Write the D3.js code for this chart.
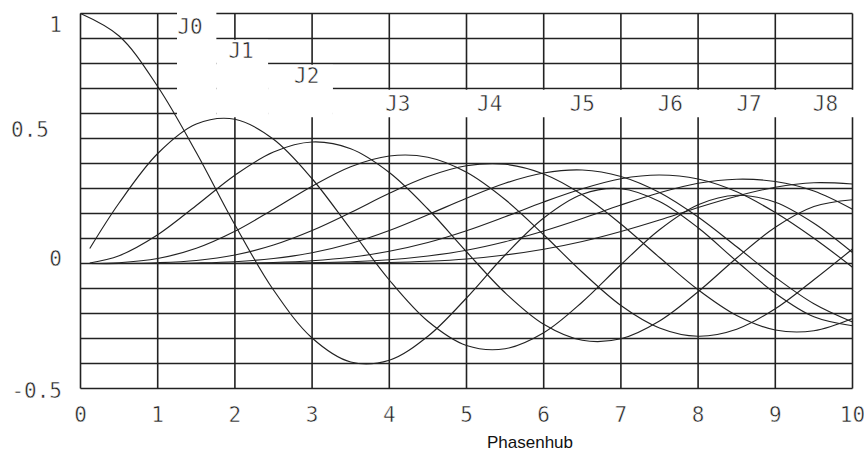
<!DOCTYPE html>
<html>
<head>
<meta charset="utf-8">
<script src="https://cdn.jsdelivr.net/npm/d3@7"></script>
<style>
  body { margin: 0; background: #fff; }
  svg { display: block; }
</style>
</head>
<body>
<div id="chart"></div>
<script>
// Phasenhub (x) sample points
const phase   = [0, 0.5, 1, 1.5, 2, 2.5, 3, 3.5, 4, 4.5, 5, 5.5, 6, 6.5, 7, 7.5, 8, 8.5, 9, 9.5, 10];
const phaseJn = [0.12, 0.5, 1, 1.5, 2, 2.5, 3, 3.5, 4, 4.5, 5, 5.5, 6, 6.5, 7, 7.5, 8, 8.5, 9, 9.5, 10];

const j0 = [1.0, 0.91, 0.708, 0.444, 0.155, -0.106, -0.298, -0.394, -0.387, -0.291, -0.138, 0.034, 0.182, 0.277, 0.299, 0.248, 0.143, 0.009, -0.119, -0.213, -0.249];
const j1 = [0.06, 0.242, 0.440, 0.558, 0.577, 0.497, 0.339, 0.137, -0.066, -0.231, -0.328, -0.341, -0.277, -0.154, -0.005, 0.135, 0.235, 0.273, 0.245, 0.161, 0.044];
const j2 = [0.002, 0.031, 0.115, 0.232, 0.353, 0.446, 0.486, 0.459, 0.364, 0.218, 0.047, -0.117, -0.243, -0.307, -0.301, -0.230, -0.113, 0.022, 0.145, 0.228, 0.255];
const j3 = [0, 0.003, 0.020, 0.061, 0.129, 0.217, 0.309, 0.387, 0.430, 0.425, 0.365, 0.256, 0.115, -0.035, -0.168, -0.258, -0.291, -0.263, -0.181, -0.065, 0.058];
const j4 = [0, 0, 0.003, 0.012, 0.034, 0.074, 0.132, 0.204, 0.281, 0.348, 0.391, 0.397, 0.358, 0.275, 0.158, 0.024, -0.105, -0.208, -0.266, -0.269, -0.220];
const j5 = [0, 0, 0, 0.002, 0.007, 0.020, 0.043, 0.080, 0.132, 0.195, 0.261, 0.321, 0.362, 0.374, 0.348, 0.284, 0.186, 0.067, -0.055, -0.161, -0.234];
const j6 = [0, 0, 0, 0, 0.001, 0.004, 0.011, 0.025, 0.049, 0.084, 0.131, 0.187, 0.246, 0.299, 0.339, 0.354, 0.338, 0.287, 0.204, 0.101, -0.015];
const j7 = [0, 0, 0, 0, 0, 0.001, 0.003, 0.007, 0.015, 0.030, 0.053, 0.087, 0.130, 0.180, 0.234, 0.283, 0.321, 0.337, 0.328, 0.290, 0.217];
const j8 = [0, 0, 0, 0, 0, 0, 0.001, 0.002, 0.004, 0.009, 0.018, 0.034, 0.057, 0.088, 0.128, 0.174, 0.224, 0.269, 0.305, 0.323, 0.318];

const seriesNames = ["J0", "J1", "J2", "J3", "J4", "J5", "J6", "J7", "J8"];
const seriesValues = [j0, j1, j2, j3, j4, j5, j6, j7, j8];

const xTicks = [0, 1, 2, 3, 4, 5, 6, 7, 8, 9, 10];
const yTicks = [1, 0.5, 0, -0.5];
const yGrid = d3.range(-5, 11).map(d => d / 10);

const width = 864;
const height = 451;
const ink = "#222";
const mono = "'DejaVu Sans Mono', monospace";

const svg = d3.select("#chart").append("svg")
  .attr("width", width)
  .attr("height", height)
  .style("background", "#fff");

const x = d3.scaleLinear().domain([0, 10]).range([80.5, 852.5]);
const y = d3.scaleLinear().domain([-0.5, 1]).range([388.5, 13.5]);

// thin plotter-like text: a white outline eats into the glyphs
function plotterText(sel) {
  sel.attr("font-family", mono)
    .attr("font-size", 21)
    .attr("fill", ink)
    .attr("stroke", "#fff")
    .attr("stroke-width", 0.5);
}

// grid
const grid = svg.append("g").attr("stroke", ink).attr("stroke-width", 1.6);
grid.selectAll("line.h")
  .data(yGrid)
  .join("line")
  .attr("class", "h")
  .attr("x1", x(0)).attr("x2", x(10))
  .attr("y1", d => y(d)).attr("y2", d => y(d));
grid.selectAll("line.v")
  .data(xTicks)
  .join("line")
  .attr("class", "v")
  .attr("x1", d => x(d)).attr("x2", d => x(d))
  .attr("y1", y(1)).attr("y2", y(-0.5));

// white staircase behind the curve names
const boxes = [
  [1.25, 1.76, 0.585, 1.02],
  [1.76, 2.43, 0.585, 0.895],
  [2.43, 3.27, 0.585, 0.795],
  [3.27, 10.1, 0.585, 0.695]
];
svg.append("g").selectAll("rect")
  .data(boxes)
  .join("rect")
  .attr("x", d => x(d[0]))
  .attr("width", d => x(d[1]) - x(d[0]))
  .attr("y", d => y(d[3]))
  .attr("height", d => y(d[2]) - y(d[3]))
  .attr("fill", "#fff");

// curves
const line = d3.line()
  .x(d => x(d[0]))
  .y(d => y(d[1]))
  .curve(d3.curveCatmullRom.alpha(0.5));

svg.append("g").selectAll("path")
  .data(seriesValues)
  .join("path")
  .attr("d", (vals, i) => line(vals.map((v, k) => [(i === 0 ? phase : phaseJn)[k], v])))
  .attr("fill", "none")
  .attr("stroke", ink)
  .attr("stroke-width", 1.15);

// curve names
const labelPos = [[1.42, 0.945], [2.08, 0.85], [2.93, 0.75], [4.11, 0.64], [5.3, 0.64], [6.5, 0.64], [7.64, 0.64], [8.66, 0.64], [9.65, 0.64]];
svg.append("g").selectAll("text")
  .data(seriesNames)
  .join("text")
  .attr("x", (d, i) => x(labelPos[i][0]))
  .attr("y", (d, i) => y(labelPos[i][1]))
  .attr("text-anchor", "middle")
  .attr("dominant-baseline", "central")
  .call(plotterText)
  .text(d => d);

// x tick labels
svg.append("g").selectAll("text")
  .data(xTicks)
  .join("text")
  .attr("x", d => x(d))
  .attr("y", 415)
  .attr("text-anchor", "middle")
  .attr("dominant-baseline", "central")
  .call(plotterText)
  .text(d => d);

// y tick labels (placed a bit off their lines as in the original)
const yShift = {"1": 11.5, "0.5": -9, "0": -5, "-0.5": 2.5};
svg.append("g").selectAll("text")
  .data(yTicks)
  .join("text")
  .attr("x", d => d === 0.5 ? 49 : 62)
  .attr("y", d => y(d) + yShift[String(d)])
  .attr("text-anchor", "end")
  .attr("dominant-baseline", "central")
  .call(plotterText)
  .text(d => d);

svg.append("text")
  .attr("x", 530)
  .attr("y", 448)
  .attr("text-anchor", "middle")
  .attr("font-family", "'Liberation Sans', Arial, sans-serif")
  .attr("font-size", 17)
  .attr("fill", "#111")
  .text("Phasenhub");
</script>
</body>
</html>
